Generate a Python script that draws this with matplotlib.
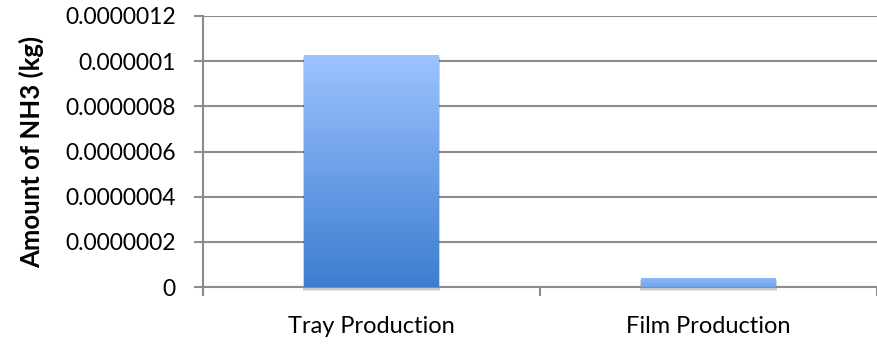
import numpy as np
import matplotlib.pyplot as plt
from matplotlib.colors import LinearSegmentedColormap
from matplotlib.patches import Rectangle
from matplotlib.ticker import FixedLocator, FixedFormatter

categories = ['Tray Production', 'Film Production']
nh3_kg = [1.025e-6, 0.036e-6]
ytick_vals = [0, 2e-7, 4e-7, 6e-7, 8e-7, 1e-6, 1.2e-6]
ytick_labels = ['0', '0.0000002', '0.0000004', '0.0000006', '0.0000008',
                '0.000001', '0.0000012']

plt.rcParams['font.family'] = ['Lato', 'DejaVu Sans']
grey = '#8c8c8c'

fig = plt.figure(figsize=(8.77, 3.48), dpi=100)
ax = fig.add_axes([203 / 877, 1 - 287 / 348, 674 / 877, 271 / 348])

# gradient fill: light blue at top of the axis range, darker at the base
cmap = LinearSegmentedColormap.from_list('bar', ['#3c7dd0', '#9cc3ff'])
grad = np.linspace(0, 1, 256).reshape(-1, 1)
width = 0.4
for i, v in enumerate(nh3_kg):
    x0 = i - width / 2
    # soft drop shadow
    for k in range(6):
        off = 0.004 + k * 0.002
        ax.add_patch(Rectangle((x0 - off * 0.3, -0.012e-6 - off * 0.4e-6), width + off * 0.6,
                               v + 0.01e-6, color='k', alpha=0.035, zorder=2, lw=0,
                               clip_on=False))
    im = ax.imshow(grad, cmap=cmap, origin='lower', aspect='auto',
                   extent=(x0, x0 + width, 0, v),
                   zorder=3, interpolation='bilinear')
    if v < 0.2e-6:
        # short bar shows only the top slice of the gradient
        im.set_data(np.linspace(0.55, 0.85, 64).reshape(-1, 1))
        im.set_clim(0, 1)

ax.set_xlim(-0.5, 1.5)
ax.set_ylim(0, 1.2e-6)

ax.yaxis.set_major_locator(FixedLocator(ytick_vals))
ax.yaxis.set_major_formatter(FixedFormatter(ytick_labels))
ax.set_xticks(range(len(categories)))
ax.set_xticklabels(categories)
ax.set_xticks([-0.5, 0.5, 1.5], minor=True)
ax.tick_params(axis='x', which='major', length=0, pad=21, labelsize=17)
ax.tick_params(axis='x', which='minor', length=6.5, width=1.5, color=grey)
ax.tick_params(axis='y', length=6.5, width=1.5, color=grey, labelsize=16.5, pad=13)

ax.grid(axis='y', color=grey, lw=1.5, zorder=1)
ax.set_axisbelow(True)
for side in ['top', 'right']:
    ax.spines[side].set_visible(False)
for side in ['left', 'bottom']:
    ax.spines[side].set_color(grey)
    ax.spines[side].set_linewidth(1.5)

ax.set_ylabel('Amount of NH3 (kg)', fontsize=18.5, fontweight='bold', labelpad=15)

plt.savefig('out.png', dpi=100)
